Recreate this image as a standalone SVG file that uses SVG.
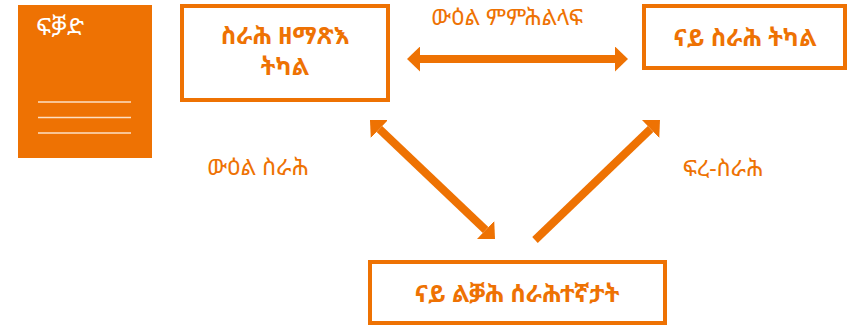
<svg xmlns="http://www.w3.org/2000/svg" width="852" height="327" viewBox="0 0 852 327">
<style>
.t{font-family:"Noto Sans Ethiopic","Abyssinica SIL","Noto Sans","DejaVu Sans",sans-serif;fill:#EE7203;text-anchor:middle}
.b{font-weight:bold;font-size:24px}
.l{font-size:23px}
.box{fill:#fff;stroke:#EE7203;stroke-width:4}
.c{stroke:#EE7203;stroke-width:8;fill:none}
</style>
<defs>
<marker id="ah" markerUnits="userSpaceOnUse" viewBox="0 0 13 25" refX="0" refY="12.5" markerWidth="13" markerHeight="25" orient="auto-start-reverse">
<path d="M0,0 L13,12.5 L0,25 Z" fill="#EE7203"/>
</marker>
</defs>
<rect width="852" height="327" fill="#fff"/>
<g id="doc">
<rect x="18" y="5" width="134" height="153" fill="#EE7203"/>
<text x="36" y="35" font-family="Noto Sans Ethiopic,Noto Sans,sans-serif" font-size="24" fill="#fff">ፍቓድ</text>
<g stroke="#fde0c4" stroke-width="1.5">
<line x1="38" y1="102" x2="131" y2="102"/>
<line x1="38" y1="117.5" x2="131" y2="117.5"/>
<line x1="38" y1="133" x2="131" y2="133"/>
</g>
</g>
<g id="hire">
<rect class="box" x="182" y="6" width="206" height="94"/>
<text class="t b" x="285" y="44">ስራሕ ዘማጽእ</text>
<text class="t b" x="285" y="75">ትካል</text>
</g>
<g id="work">
<rect class="box" x="644" y="6" width="201" height="62"/>
<text class="t b" x="745" y="46">ናይ ስራሕ ትካል</text>
</g>
<g id="loan">
<rect class="box" x="370" y="262" width="295" height="61"/>
<text class="t b" x="517" y="302" font-size="25">ናይ ልቓሕ ሰራሕተኛታት</text>
</g>
<g id="connectors">
<line class="c" x1="420" y1="59" x2="615" y2="59" marker-start="url(#ah)" marker-end="url(#ah)"/>
<line class="c" x1="379.4" y1="129" x2="485.6" y2="230" marker-start="url(#ah)" marker-end="url(#ah)"/>
<line class="c" x1="535" y1="240" x2="650.6" y2="129" marker-end="url(#ah)"/>
<text class="t l" x="507" y="24.5">ውዕል ምምሕልላፍ</text>
<text class="t l" x="258" y="175">ውዕል ስራሕ</text>
<text class="t l" x="723" y="176">ፍረ-ስራሕ</text>
</g>
</svg>
